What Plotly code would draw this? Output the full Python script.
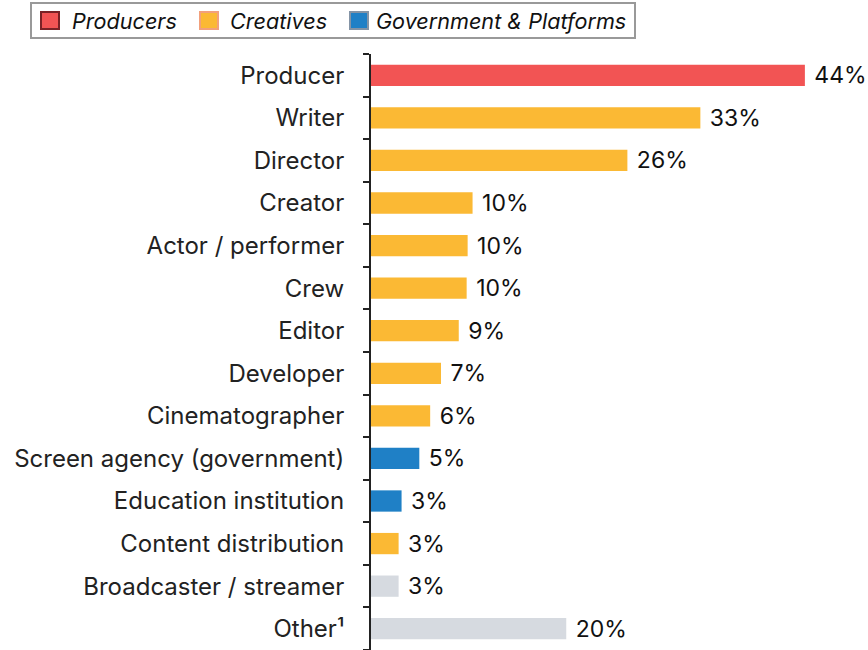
import plotly.graph_objects as go

categories = ["Producer", "Writer", "Director", "Creator", "Actor / performer", "Crew",
              "Editor", "Developer", "Cinematographer", "Screen agency (government)",
              "Education institution", "Content distribution", "Broadcaster / streamer", "Other¹"]
values = [44.0, 33.4, 26.0, 10.3, 9.8, 9.7, 8.9, 7.1, 6.0, 4.9, 3.1, 2.8, 2.8, 19.8]
groups = ["Producers", "Creatives", "Creatives", "Creatives", "Creatives", "Creatives",
          "Creatives", "Creatives", "Creatives", "Government & Platforms",
          "Government & Platforms", "Creatives", "Other", "Other"]

legend_groups = ["Producers", "Creatives", "Government & Platforms"]
fill = {"Producers": "#F25454", "Creatives": "#FBB934",
        "Government & Platforms": "#1F80C6", "Other": "#D6DAE0"}
edge = {"Producers": "#7A2226", "Creatives": "#F2A07C",
        "Government & Platforms": "#8494A6", "Other": "#D6DAE0"}

FONT = "Inter"
W, H = 868, 650
ML, MT = 371, 54
PW, PH = W - ML, H - MT


def px(x):
    return (x - ML) / PW


def py(y):
    return 1 - (y - MT) / PH


fig = go.Figure()
for g in legend_groups + ["Other"]:
    ys = [c for c, gg in zip(categories, groups) if gg == g]
    xs = [v for v, gg in zip(values, groups) if gg == g]
    fig.add_trace(go.Bar(
        x=xs, y=ys, orientation="h", name=g, showlegend=False,
        marker=dict(color=fill[g], line=dict(width=0)),
        width=0.5,
        texttemplate="\u00a0%{x:.0f}%", textposition="outside", cliponaxis=False,
        constraintext="none",
        textfont=dict(size=23, color="#111", family=FONT),
    ))

# hand-built legend box (paper coordinates)
shapes = [dict(type="rect", xref="paper", yref="paper",
               x0=px(31), x1=px(635), y0=py(3), y1=py(38),
               line=dict(color="#999", width=2), fillcolor="white", layer="above")]
annotations = []
sq_left = [41, 200, 350]
txt_left = [70, 228, 374]
for g, sx, tx in zip(legend_groups, sq_left, txt_left):
    shapes.append(dict(type="rect", xref="paper", yref="paper",
                       x0=px(sx), x1=px(sx + 18), y0=py(12), y1=py(29),
                       line=dict(color=edge[g], width=2), fillcolor=fill[g], layer="above"))
    annotations.append(dict(text=g, xref="paper", yref="paper", x=px(tx), y=py(21),
                            xanchor="left", yanchor="middle", showarrow=False,
                            font=dict(size=21.6, family=FONT, style="italic", color="#111")))

fig.update_layout(
    width=W, height=H,
    margin=dict(l=ML, r=0, t=MT, b=0, autoexpand=False),
    paper_bgcolor="white", plot_bgcolor="white",
    barmode="overlay",
    font=dict(family=FONT, size=22, color="#222"),
    showlegend=False,
    shapes=shapes, annotations=annotations,
    xaxis=dict(range=[0, 50.4], visible=False),
    yaxis=dict(categoryorder="array", categoryarray=categories[::-1],
               autorange=False, range=[-0.5, len(categories) - 0.5], automargin=False,
               showline=True, linecolor="#222", linewidth=2,
               ticks="outside", tickson="boundaries", ticklen=6, tickcolor="#222", tickwidth=2,
               ticklabelstandoff=20, showgrid=False,
               tickfont=dict(size=24, family=FONT, color="#222")),
)
fig.write_html("out.html", config={"displayModeBar": False},
               post_script="document.body.style.margin='0';")
